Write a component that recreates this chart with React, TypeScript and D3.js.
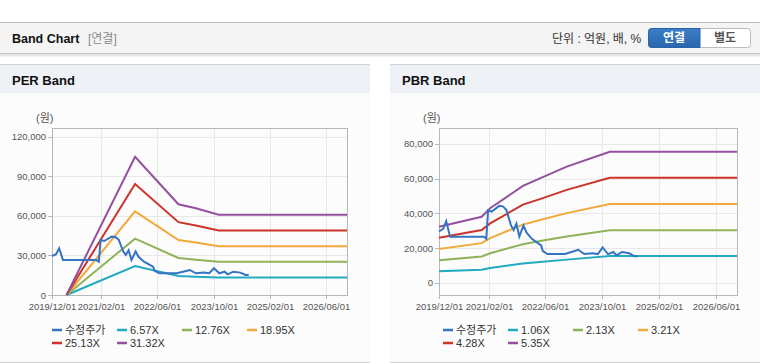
import React from 'react';
import * as d3 from 'd3';

// 수정주가 (adjusted close)
const priceDates = [
  '2019-12-01', '2020-01-05', '2020-02-01', '2020-03-05', '2020-12-20', '2021-01-10',
  '2021-01-25', '2021-02-25', '2021-05-01', '2021-06-01', '2021-07-01', '2021-08-10',
  '2021-09-01', '2021-09-25', '2021-10-20', '2021-11-25', '2021-12-20', '2022-02-05',
  '2022-04-25', '2022-05-10', '2022-06-20', '2022-11-15', '2023-01-10', '2023-03-10',
  '2023-05-01', '2023-07-10', '2023-08-25', '2023-10-05', '2023-11-20', '2024-01-05',
  '2024-02-01', '2024-03-20', '2024-05-20', '2024-07-05', '2024-08-01',
];
const priceValues = [
  29500, 31000, 35500, 26500, 26500, 25300,
  41800, 41000, 44300, 44000, 42000, 33000,
  30400, 34000, 26600, 33000, 29000, 25300,
  21500, 18200, 16500, 16500, 17700, 19000,
  16500, 17000, 16500, 20300, 16500, 17700,
  15700, 17700, 17000, 15200, 15200,
];

// PER band
const perBandDates = ['2020-04-05', '2021-11-20', '2022-12-01', '2023-05-01', '2023-11-15', '2026-12-01'];
const per657 = [0, 22000, 14500, 13900, 13200, 13200];
const per1276 = [0, 42800, 28100, 26800, 25200, 25200];
const per1895 = [0, 63500, 41700, 39800, 37000, 37000];
const per2513 = [0, 84250, 55300, 52800, 49000, 49000];
const per3132 = [0, 105000, 68900, 65800, 61000, 61000];
const perYTicks = [0, 30000, 60000, 90000, 120000];

// PBR band
const pbrBandDates = ['2019-12-01', '2020-12-01', '2021-02-12', '2021-11-20', '2022-04-15', '2022-12-01', '2023-12-05', '2026-12-01'];
const pbr106 = [6600, 7500, 8500, 11100, 11950, 13300, 15400, 15400];
const pbr213 = [13000, 15100, 17000, 22200, 24000, 26600, 30300, 30300];
const pbr321 = [19400, 22800, 25700, 33500, 36100, 40100, 45400, 45400];
const pbr428 = [25900, 30400, 34200, 45000, 48200, 53500, 60500, 60500];
const pbr535 = [32300, 38000, 42900, 55800, 60200, 66900, 75500, 75500];
const pbrYTicks = [0, 20000, 40000, 60000, 80000];

const xTickDates = ['2019-12-01', '2021-02-01', '2022-06-01', '2023-10-01', '2025-02-01', '2026-06-01'];
const xDomain = ['2019-12-01', '2026-12-01'];

const colors = ['#3574c4', '#22abc0', '#8fb35a', '#f2a93b', '#cc3329', '#93509d'];

const parse = d3.timeParse('%Y-%m-%d');
const fmtTick = d3.timeFormat('%Y/%m/%d');
const fmtNum = d3.format(',');

const tickFont = '"Liberation Sans", Arial, sans-serif';
const mixFont = '"Liberation Sans", "Noto Sans CJK KR", sans-serif';

interface Band {
  label: string;
  values: number[];
}

interface PanelProps {
  x0: number;
  x1: number;
  title: string;
  frameL: number;
  frameR: number;
  yDomain: [number, number];
  yTicks: number[];
  bandDates: string[];
  bands: Band[];
  legendX: number;
}

function Panel({ x0, x1, title, frameL, frameR, yDomain, yTicks, bandDates, bands, legendX }: PanelProps) {
  const top = 128;
  const bottom = 295;

  const x = d3.scaleTime()
    .domain(xDomain.map(d => parse(d) as Date))
    .range([frameL, frameR]);
  const y = d3.scaleLinear().domain(yDomain).range([bottom, top]);

  const line = d3.line<[Date, number]>()
    .x(d => x(d[0]))
    .y(d => y(d[1]));

  const bandPts = (vals: number[]) => bandDates.map((d, i) => [parse(d) as Date, vals[i]] as [Date, number]);
  const pricePts = priceDates.map((d, i) => [parse(d) as Date, priceValues[i]] as [Date, number]);

  const legend = [{ label: '수정주가' }, ...bands];

  return (
    <g>
      <rect x={x0} y={64} width={x1 - x0} height={299} fill="#fcfcfc" />
      <rect x={x0} y={64} width={x1 - x0} height={29} fill="#eef2f7" />
      <line x1={x0} x2={x1} y1={64.5} y2={64.5} stroke="#d4d4d4" />
      <line x1={x0} x2={x1} y1={362.5} y2={362.5} stroke="#d4d4d4" />
      <text x={x0 + 12} y={85} fontFamily={mixFont} fontWeight="bold" fontSize={13} fill="#111">{title}</text>

      <text x={frameL - 16} y={122} fontFamily={mixFont} fontSize={11} fill="#555">(원)</text>

      {/* grid */}
      {yTicks.map(t => (
        <line key={'gy' + t} x1={frameL} x2={frameR} y1={Math.round(y(t)) + 0.5} y2={Math.round(y(t)) + 0.5} stroke="#e8e8e8" />
      ))}
      {xTickDates.map(t => {
        const px = Math.round(x(parse(t) as Date)) + 0.5;
        return <line key={'gx' + t} x1={px} x2={px} y1={top} y2={bottom} stroke="#e8e8e8" />;
      })}
      <rect x={frameL + 0.5} y={top + 0.5} width={frameR - frameL} height={bottom - top} fill="none" stroke="#b8b8b8" />

      {/* ticks */}
      {yTicks.map(t => (
        <g key={'ty' + t}>
          <line x1={frameL - 4} x2={frameL} y1={Math.round(y(t)) + 0.5} y2={Math.round(y(t)) + 0.5} stroke="#b8b8b8" />
          <text x={frameL - 6} y={y(t) + 3.5} textAnchor="end" fontFamily={tickFont} fontSize={9.5} fill="#555">{fmtNum(t)}</text>
        </g>
      ))}
      {xTickDates.map(t => {
        const px = Math.round(x(parse(t) as Date)) + 0.5;
        return (
          <g key={'tx' + t}>
            <line x1={px} x2={px} y1={bottom} y2={bottom + 4} stroke="#b8b8b8" />
            <text x={px} y={310} textAnchor="middle" fontFamily={tickFont} fontSize={9.5} fill="#555">{fmtTick(parse(t) as Date)}</text>
          </g>
        );
      })}

      {/* bands */}
      {bands.map((b, i) => (
        <path key={b.label} d={line(bandPts(b.values)) || ''} fill="none" stroke={colors[i + 1]} strokeWidth={2} />
      ))}
      <path d={line(pricePts) || ''} fill="none" stroke={colors[0]} strokeWidth={2} />

      {/* legend */}
      {legend.map((l, i) => {
        const lx = legendX + (i % 4) * 65;
        const ly = 330 + Math.floor(i / 4) * 13;
        return (
          <g key={'lg' + l.label}>
            <line x1={lx} x2={lx + 10} y1={ly} y2={ly} stroke={colors[i]} strokeWidth={2.5} />
            <text x={lx + 13} y={ly + 4} fontFamily={mixFont} fontSize={11} fill="#333">{l.label}</text>
          </g>
        );
      })}
    </g>
  );
}

export default function App() {
  const perBands: Band[] = [
    { label: '6.57X', values: per657 },
    { label: '12.76X', values: per1276 },
    { label: '18.95X', values: per1895 },
    { label: '25.13X', values: per2513 },
    { label: '31.32X', values: per3132 },
  ];
  const pbrBands: Band[] = [
    { label: '1.06X', values: pbr106 },
    { label: '2.13X', values: pbr213 },
    { label: '3.21X', values: pbr321 },
    { label: '4.28X', values: pbr428 },
    { label: '5.35X', values: pbr535 },
  ];

  return (
    <div style={{ position: 'absolute', left: 0, top: 0, width: 760, height: 364, background: '#fff' }}>
      <svg width={760} height={364} style={{ display: 'block' }}>
        <defs>
          <linearGradient id="hdrShadow" x1="0" y1="0" x2="0" y2="1">
            <stop offset="0" stopColor="#000" stopOpacity={0.14} />
            <stop offset="1" stopColor="#000" stopOpacity={0} />
          </linearGradient>
          <linearGradient id="btnBlue" x1="0" y1="0" x2="0" y2="1">
            <stop offset="0" stopColor="#3b7fc8" />
            <stop offset="1" stopColor="#2a66ad" />
          </linearGradient>
        </defs>

        {/* header */}
        <rect x={0} y={22} width={760} height={32} fill="#f4f4f4" />
        <line x1={0} x2={760} y1={22.5} y2={22.5} stroke="#bdbdbd" />
        <line x1={0} x2={760} y1={53.5} y2={53.5} stroke="#c6c6c6" />
        <rect x={0} y={54} width={760} height={4} fill="url(#hdrShadow)" />
        <text x={12} y={43} fontFamily={mixFont} fontWeight="bold" fontSize={12.5} fill="#111">Band Chart</text>
        <text x={88} y={43} fontFamily={mixFont} fontSize={12} fill="#8a8a8a">[연결]</text>

        <text x={552} y={43} fontFamily={mixFont} fontSize={12} fill="#333">단위 : 억원, 배, %</text>
        <rect x={648.5} y={28.5} width={102} height={19} rx={3} fill="#fff" stroke="#bcbcbc" />
        <path d="M651.5,28.5 H700 V47.5 H651.5 Q648.5,47.5 648.5,44.5 V31.5 Q648.5,28.5 651.5,28.5 Z" fill="url(#btnBlue)" stroke="#2a62a6" />
        <text x={674} y={42} textAnchor="middle" fontFamily={mixFont} fontWeight="bold" fontSize={12} fill="#fff">연결</text>
        <text x={725} y={42} textAnchor="middle" fontFamily={mixFont} fontWeight="bold" fontSize={12} fill="#555">별도</text>

        <Panel
          x0={0} x1={370} title="PER Band" frameL={52} frameR={347}
          yDomain={[0, 126800]} yTicks={perYTicks}
          bandDates={perBandDates} bands={perBands} legendX={52}
        />
        <Panel
          x0={390} x1={760} title="PBR Band" frameL={439} frameR={737}
          yDomain={[-7100, 89200]} yTicks={pbrYTicks}
          bandDates={pbrBandDates} bands={pbrBands} legendX={443}
        />
      </svg>
    </div>
  );
}
